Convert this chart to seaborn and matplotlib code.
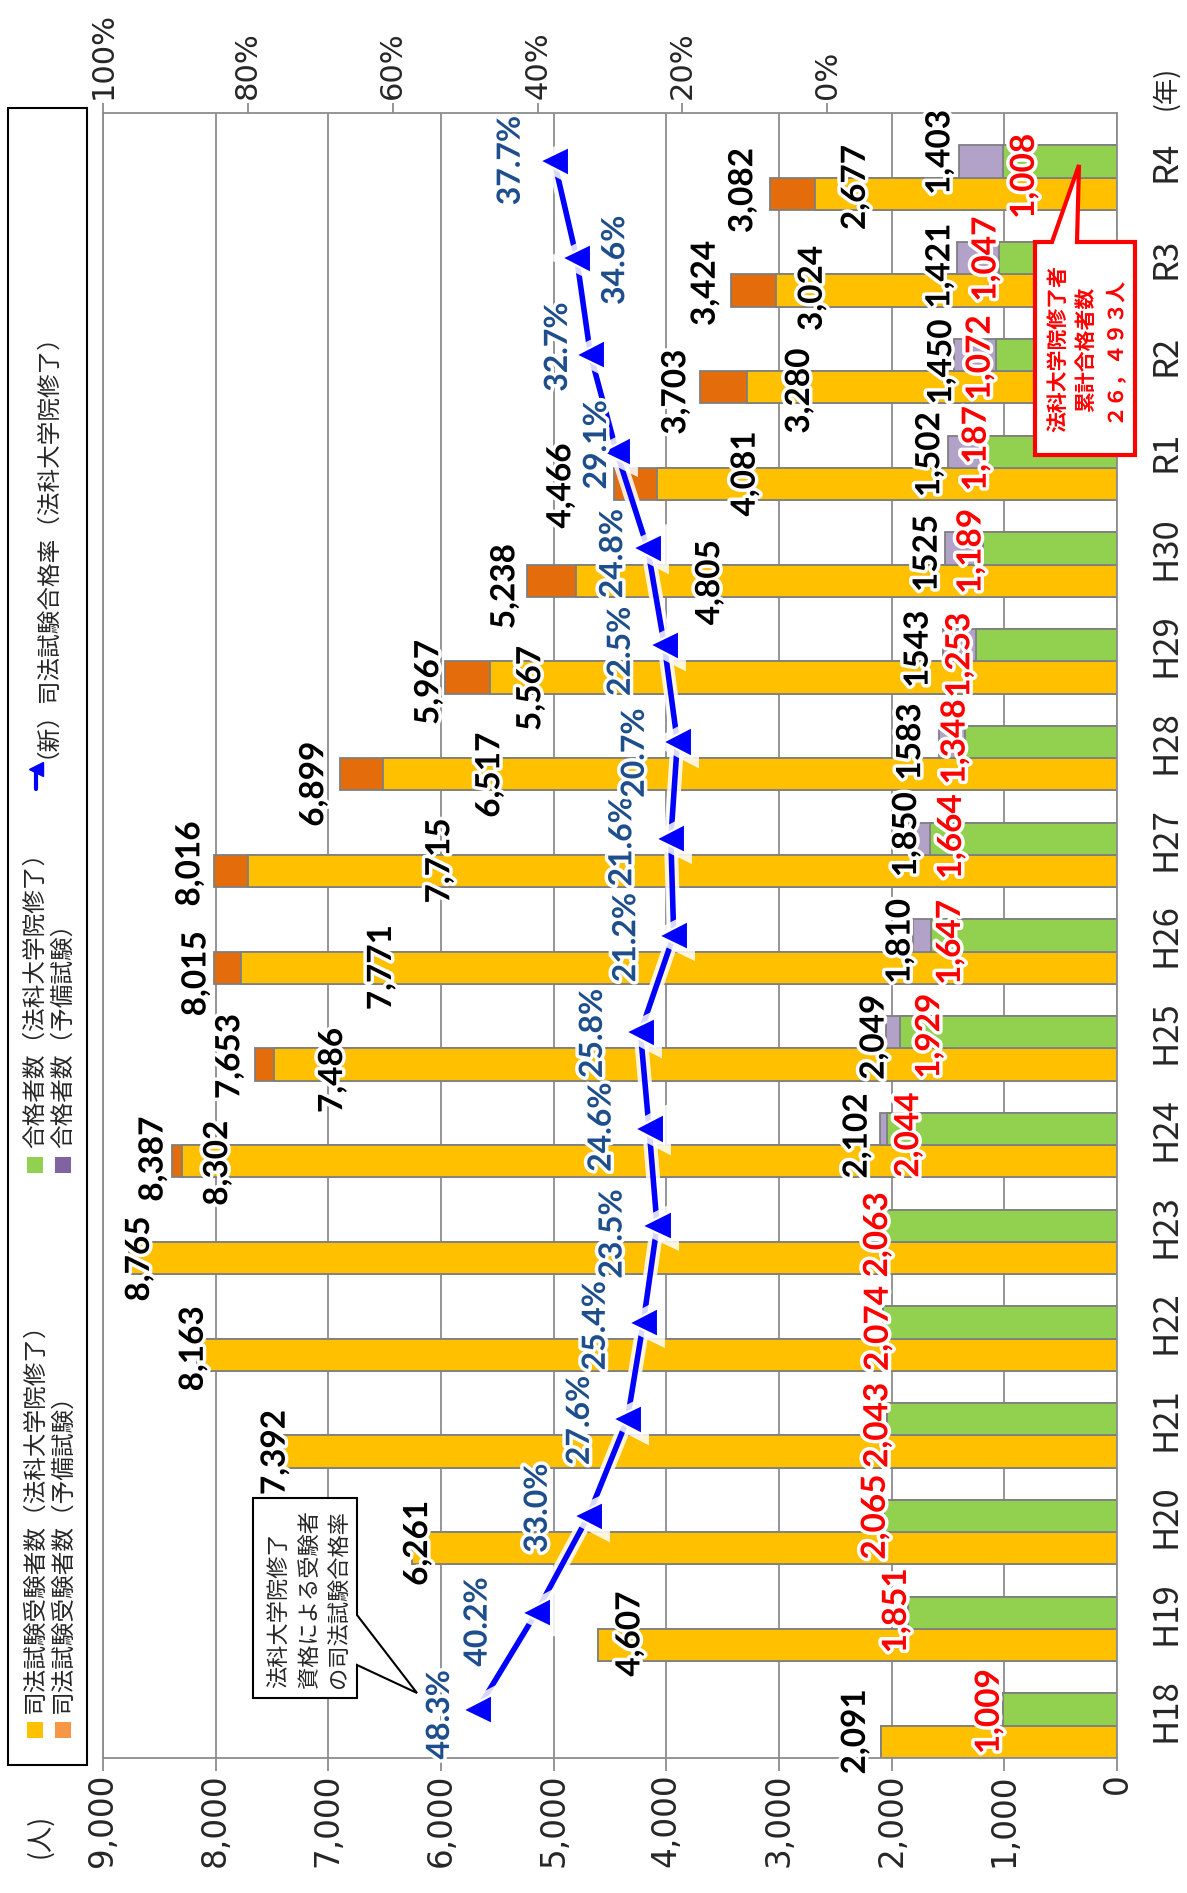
import matplotlib
matplotlib.use('Agg')
import matplotlib.pyplot as plt
import matplotlib.patheffects as pe
from matplotlib.patches import Polygon, Rectangle
from matplotlib.lines import Line2D
import pandas as pd
import seaborn as sns

# values
years = ['H18', 'H19', 'H20', 'H21', 'H22', 'H23', 'H24', 'H25', 'H26',
         'H27', 'H28', 'H29', 'H30', 'R1', 'R2', 'R3', 'R4']
exam_law = [2091, 4607, 6261, 7392, 8163, 8765, 8302, 7486, 7771,
            7715, 6517, 5567, 4805, 4081, 3280, 3024, 2677]
exam_total = [2091, 4607, 6261, 7392, 8163, 8765, 8387, 7653, 8015,
              8016, 6899, 5967, 5238, 4466, 3703, 3424, 3082]
pass_law = [1009, 1851, 2065, 2043, 2074, 2063, 2044, 1929, 1647,
            1664, 1348, 1253, 1189, 1187, 1072, 1047, 1008]
pass_total = [1009, 1851, 2065, 2043, 2074, 2063, 2102, 2049, 1810,
              1850, 1583, 1543, 1525, 1502, 1450, 1421, 1403]
pass_total_text = ['2,102', '2,049', '1,810', '1,850', '1583', '1543',
                   '1525', '1,502', '1,450', '1,421', '1,403']  # H24..R4
pass_rate = [48.3, 40.2, 33.0, 27.6, 25.4, 23.5, 24.6, 25.8, 21.2,
             21.6, 20.7, 22.5, 24.8, 29.1, 32.7, 34.6, 37.7]
count_ticks = list(range(0, 9001, 1000))
rate_ticks = [0, 20, 40, 60, 80, 100]

# label nudges in pixels (dx, dy down)
tot_off = [(-26, -10), (32, -11), (6, -5), (-9, 1), (-4, -6), (10, 1), (-19, -2), (-25, -8), (-18, 6),
           (-24, -7), (-26, 10), (-16, 5), (-22, 6), (-53, 2), (-24, 5), (-26, -7), (-27, -3)]
law_off = [(36, 2), (59, 6), (140, 0), (192, -10), (107, 1), (41, 11), (134, 2), (88, -10),
           (52, 4), (36, -2), (40, -6)]
red_off = [(-14, 2), (-12, -2), (-9, 1), (-9, 6), (-5, 6), (-7, 9), (22, 6), (30, 4), (19, 7),
           (22, -2), (-10, 0), (-16, 10), (-12, 3), (-7, -3), (-16, 3), (-13, 1), (21, 15)]
ptot_off = [(-23, 7), (-12, 5), (-13, 6), (-2, -4), (-28, 0), (-25, 4), (-18, 5), (-18, 3),
            (-12, 7), (-17, 8), (-19, -9)]
rate_off = [(-38, 5), (-59, 9), (-51, -8), (-48, 1), (-48, 3), (-45, 8), (-48, -2), (-48, 1),
            (-48, 2), (-49, 3), (-43, 11), (-44, 6), (-35, 5), (-20, -7), (-33, -8), (38, 2), (-44, -1)]

sns.set_style('white')
plt.rcParams['font.family'] = ['Noto Sans CJK JP', 'DejaVu Sans']

W, H = 1187, 1893
fig = plt.figure(figsize=(W / 100, H / 100), dpi=100)


def fx(x):
    return x / W


def fy(y):
    return 1 - y / H


ax = fig.add_axes([fx(103), fy(1758), (1117 - 103) / W, (1758 - 113) / H])

n = len(years)
df = pd.DataFrame({
    'year': years,
    'pos_exam': [3 * i + 0.5 for i in range(n)],
    'pos_pass': [3 * i + 1.5 for i in range(n)],
    'exam_law': exam_law,
    'exam_total': exam_total,
    'pass_law': pass_law,
    'pass_total': pass_total,
    'rate': pass_rate,
})

grey = '#8c8c8c'
bar_kw = dict(orient='y', native_scale=True, width=1 / 3, saturation=1, errorbar=None,
              edgecolor='#7f7f7f', linewidth=1.3, ax=ax)
sns.barplot(data=df, x='exam_total', y='pos_exam', color='#E46C0A', **bar_kw)
sns.barplot(data=df, x='exam_law', y='pos_exam', color='#FFC000', **bar_kw)
sns.barplot(data=df, x='pass_total', y='pos_pass', color='#B3A2C7', **bar_kw)
sns.barplot(data=df, x='pass_law', y='pos_pass', color='#92D050', **bar_kw)

ax.set_xlim(9000, 0)
ax.set_ylim(0, 51)
ax.set_xlabel('')
ax.set_ylabel('')
ax.grid(axis='x', color=grey, lw=1.3)
ax.grid(axis='y', visible=False)
ax.set_axisbelow(True)
for s in ax.spines.values():
    s.set_color(grey)
    s.set_linewidth(1.3)

ax.set_xticks(count_ticks)
ax.set_xticklabels([f'{v:,}' for v in count_ticks], rotation=90, family='DejaVu Sans', fontsize=23.5)
ax.tick_params(axis='x', bottom=True, direction='out', length=9, width=1.3, color=grey, pad=2)

ax.yaxis.tick_right()
ax.set_yticks(df['pos_pass'])
ax.set_yticklabels(years, rotation=90, va='center', family='Noto Sans CJK JP', fontsize=25)
ax.tick_params(axis='y', length=0, pad=23)

# pass rate line on a second (top) scale
ax2 = ax.twiny()
sns.lineplot(data=df, x='rate', y='pos_pass', orient='y', errorbar=None, color='#0000FF',
             linewidth=4, marker='<', markersize=21, markeredgecolor='white',
             markeredgewidth=1.5, ax=ax2,
             path_effects=[pe.Stroke(linewidth=10, foreground='white', alpha=0.85), pe.Normal()])
ax2.set_xlim(100, -40)
ax2.set_ylim(0, 51)
ax2.set_xlabel('')
ax2.set_ylabel('')
ax2.set_xticks(rate_ticks)
ax2.set_xticklabels([f'{v}%' for v in rate_ticks], rotation=90, family='DejaVu Sans', fontsize=22)
ax2.tick_params(axis='x', top=True, direction='out', length=7, width=1.3, color=grey, pad=3)
for s in ax2.spines.values():
    s.set_visible(False)

glow = [pe.withStroke(linewidth=5, foreground='white')]
num_font = ['Lato', 'DejaVu Sans']


def put(a, txt, x, y, off, color, size=24):
    a.annotate(txt, xy=(x, y), xytext=(off[0], -off[1]), textcoords='offset pixels',
               rotation=90, ha='center', va='center', color=color, fontsize=size,
               fontweight='bold', family=num_font, path_effects=glow,
               annotation_clip=False, zorder=6)


for i in range(n):
    put(ax, f'{exam_total[i]:,}', exam_total[i], df['pos_exam'][i], tot_off[i], 'black')
    put(ax, f'{pass_law[i]:,}', pass_law[i], df['pos_pass'][i], red_off[i], '#FF0000')
    put(ax2, f'{pass_rate[i]:.1f}%', pass_rate[i], df['pos_pass'][i], rate_off[i], '#1F4E8C', 23)
for k, i in enumerate(range(6, n)):
    put(ax, f'{exam_law[i]:,}', exam_law[i], df['pos_exam'][i], law_off[k], 'black')
    put(ax, pass_total_text[k], pass_total[i], df['pos_pass'][i], ptot_off[k], 'black')

# unit labels
fig.text(fx(40), fy(1836), '(人)', rotation=90, ha='center', va='center', fontsize=19)
fig.text(fx(1166), fy(88), '(年)', rotation=90, ha='center', va='center', fontsize=19)

# legend drawn by hand (rotated)
fig.add_artist(Rectangle((fx(8), fy(1765)), (87 - 8) / W, (1765 - 108) / H,
                         transform=fig.transFigure, fill=False, ec='black', lw=1.5))
legend_items = [
    (35, 1730, '#FFC000', 1713, '司法試験受験者数（法科大学院修了）'),
    (63, 1730, '#F79646', 1713, '司法試験受験者数（予備試験）'),
    (35, 1165, '#92D050', 1148, '合格者数（法科大学院修了）'),
    (63, 1165, '#8064A2', 1148, '合格者数（予備試験）'),
]
for x, ys, col, yt, label in legend_items:
    fig.add_artist(Rectangle((fx(x - 8), fy(ys + 8)), 16 / W, 16 / H,
                             transform=fig.transFigure, fc=col, ec='none'))
    fig.text(fx(x), fy(yt), label, rotation=90, ha='center', va='bottom', fontsize=17)
fig.add_artist(Line2D([fx(36), fx(36)], [fy(789), fy(769)], transform=fig.transFigure,
                      color='#0000FF', lw=3, marker='<', markersize=10, markevery=[1]))
fig.text(fx(35), fy(758), '（新）司法試験合格率（法科大学院修了）', rotation=90, ha='center',
         va='bottom', fontsize=17)

# callout for the first rate point
call1 = [(253, 1498), (357, 1498), (357, 1615), (417, 1693), (357, 1665), (357, 1698), (253, 1698)]
fig.add_artist(Polygon([(fx(x), fy(y)) for x, y in call1], closed=True, transform=fig.transFigure,
                       fc='white', ec='black', lw=1.5, zorder=8))
for x, line in zip([279, 309, 338], ['法科大学院修了', '資格による受験者', 'の司法試験合格率']):
    fig.text(fx(x), fy(1688), line, rotation=90, ha='center', va='bottom', fontsize=16, zorder=9)

# callout for cumulative passers
call2 = [(1035, 242), (1052, 242), (1079, 165), (1077, 242), (1135, 242), (1135, 455), (1035, 455)]
fig.add_artist(Polygon([(fx(x), fy(y)) for x, y in call2], closed=True, transform=fig.transFigure,
                       fc='white', ec='#FF0000', lw=3, zorder=8))
for x, line in zip([1058, 1086, 1113], ['法科大学院修了者', '累計合格者数', '２６，４９３人']):
    fig.text(fx(x), fy(349), line, rotation=90, ha='center', va='center', fontsize=15,
             fontweight='bold', color='#FF0000', zorder=9)

fig.savefig('out.png', dpi=100)
